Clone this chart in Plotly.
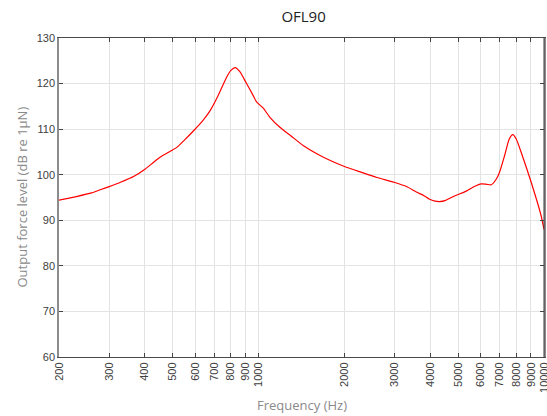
import numpy as np
import plotly.graph_objects as go

freq = [200, 230, 260, 279, 300, 330, 365, 400, 430, 456, 480, 517, 550, 591, 640, 676,
        720, 773, 800, 829, 860, 908, 950, 984, 1039, 1096, 1188, 1300, 1433, 1600, 1800,
        2000, 2300, 2600, 3000, 3300, 3571, 3800, 3973, 4150, 4309, 4500, 4700, 4929, 5344,
        5700, 6028, 6300, 6535, 6800, 6982, 7300, 7550, 7775, 8000, 8426, 9000, 9770, 10000]
level = [94.4, 95.2, 96.0, 96.7, 97.4, 98.4, 99.6, 101.2, 102.8, 104.0, 104.8, 106.0, 107.6,
         109.6, 112.0, 114.0, 117.2, 121.4, 122.9, 123.5, 122.6, 120.0, 117.8, 116.0, 114.6,
         112.6, 110.4, 108.5, 106.4, 104.6, 103.0, 101.8, 100.5, 99.4, 98.3, 97.4, 96.2, 95.4,
         94.6, 94.2, 94.1, 94.3, 94.9, 95.5, 96.4, 97.4, 98.0, 97.9, 97.8, 99.0, 100.5, 104.5,
         107.8, 108.8, 107.8, 103.9, 98.5, 91.0, 88.0]

x_ticks = [200, 300, 400, 500, 600, 700, 800, 900, 1000, 2000, 3000, 4000, 5000, 6000,
           7000, 8000, 9000, 10000]
y_ticks = [60, 70, 80, 90, 100, 110, 120, 130]

fig = go.Figure()
fig.add_trace(go.Scatter(x=freq, y=level, mode="lines",
                         line=dict(color="#ff0000", width=1.2, shape="spline", smoothing=0.6),
                         showlegend=False, hoverinfo="skip"))

tickfont = dict(family="Liberation Sans, Arial, sans-serif", size=11, color="#404040")
labfont = dict(family="Open Sans, sans-serif", size=13, color="#8a8a8a")
fig.update_layout(
    width=547, height=416,
    margin=dict(l=59, r=3, t=38, b=59),
    paper_bgcolor="white", plot_bgcolor="white",
    title=dict(text="OFL90", x=0.555, xanchor="center", y=1 - 17 / 416, yanchor="middle",
               font=dict(family="Open Sans, sans-serif", size=15, color="#222222")),
    xaxis=dict(type="log", range=[np.log10(200), np.log10(10000)], automargin=False,
               tickvals=x_ticks, ticktext=[str(v) for v in x_ticks], tickangle=-90,
               ticklabeloverflow="allow",
               tickfont=tickfont, ticks="inside", ticklen=4, tickcolor="#444444",
               showgrid=True, gridcolor="#e3e3e3", gridwidth=1,
               showline=True, linecolor="#4a4a4a", linewidth=1, mirror="ticks",
               zeroline=False),
    yaxis=dict(range=[60, 130], tickvals=y_ticks, tickfont=tickfont, automargin=False,
               ticks="inside", ticklen=4, tickcolor="#444444",
               showgrid=True, gridcolor="#e3e3e3", gridwidth=1,
               showline=True, linecolor="#8c8c8c", linewidth=1.5, mirror="ticks",
               zeroline=False),
    shapes=[dict(type="line", xref="paper", yref="paper", x0=1, x1=1, y0=0, y1=1,
                 line=dict(color="#3a3a3a", width=1))],
    annotations=[
        dict(text="Frequency (Hz)", xref="paper", yref="paper", x=0.5, y=0, yshift=-48,
             xanchor="center", yanchor="middle", showarrow=False, font=labfont),
        dict(text="Output force level (dB re 1μN)", xref="paper", yref="paper", x=0, y=0.5,
             xshift=-38, xanchor="center", yanchor="middle", textangle=-90,
             showarrow=False, font=labfont),
    ],
)
fig.write_html("out.html", config={"displayModeBar": False},
               post_script="document.body.style.margin='0px';document.body.style.overflow='hidden';")
